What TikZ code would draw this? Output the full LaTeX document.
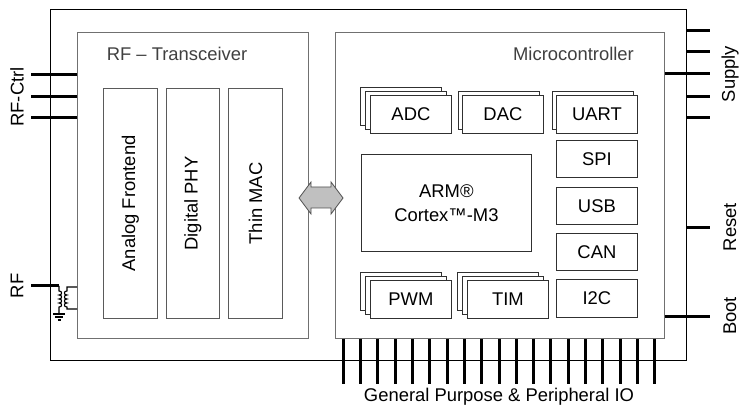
\documentclass[tikz,border=0pt]{standalone}
\usepackage{fontspec}
\setmainfont{Liberation Sans}
\usetikzlibrary{calc}
\definecolor{frame}{HTML}{707070}
\definecolor{pbord}{HTML}{303030}
\definecolor{titletxt}{HTML}{404040}
\definecolor{arrowfill}{HTML}{C0C0C0}
\definecolor{arrowline}{HTML}{505050}
\begin{document}
\begin{tikzpicture}[x=1pt,y=-1pt,
  font=\fontsize{18.4}{24}\selectfont,
  outerbox/.style={draw=black, line width=0.9pt, inner sep=0pt, anchor=north west},
  container/.style={draw=frame, line width=0.9pt, fill=white, inner sep=0pt, anchor=north west},
  vbox/.style={draw=frame!80!black, line width=0.9pt, fill=white, inner sep=0pt, anchor=north west,
     minimum height=230pt},
  pbox/.style={draw=pbord, line width=0.8pt, fill=white, inner sep=0pt, anchor=north west,
     minimum width=81pt, minimum height=38pt},
  cbox/.style={pbox, minimum height=37pt},
  title/.style={text=titletxt, inner sep=0pt},
  pin/.style={line width=3pt, draw=black},
  coil/.style={line width=1.1pt, draw=black},
  pinlabel/.style={rotate=90, inner sep=0pt}
]
\useasboundingbox (0,0) rectangle (740,406);

% outer chip
\node[outerbox, minimum width=636pt, minimum height=351pt] (chip) at (50,9) {};

% containers
\node[container, minimum width=231pt, minimum height=306pt] (rfbox) at (77,32) {};
\node[container, minimum width=329pt, minimum height=306pt] (mcu) at (335,32) {};

\node[title] (rftitle) at (177,54) {RF – Transceiver};
\node[title, anchor=east] (mcutitle) at (634,54) {Microcontroller};

% RF blocks
\node[vbox, minimum width=54pt] (afe) at (103,88) {};
\node[rotate=90, inner sep=0pt] (afelbl) at (afe.center) {Analog Frontend};
\node[vbox, minimum width=53pt] (dphy) at (166,88) {};
\node[rotate=90, inner sep=0pt] (dphylbl) at (dphy.center) {Digital PHY};
\node[vbox, minimum width=54pt] (tmac) at (228,88) {};
\node[rotate=90, inner sep=0pt] (tmaclbl) at (tmac.center) {Thin MAC};

% MCU blocks
\node[draw=pbord, line width=0.8pt, fill=white, anchor=north west, inner sep=0pt,
      minimum width=170pt, minimum height=97pt, align=center] (arm) at (361,154) {ARM®\\Cortex™-M3};

\node[pbox] (adc3) at (360,87) {};
\node[pbox] (adc2) at (365,91) {};
\node[pbox] (adc) at (370,95) {ADC};

\node[pbox] (dac2) at (458,91) {};
\node[pbox] (dac) at (462,95) {DAC};

\node[pbox] (uart2) at (552,91) {};
\node[pbox] (uart) at (556,95) {UART};

\node[cbox] (spi) at (556,140) {SPI};
\node[cbox] (usb) at (556,187) {USB};
\node[cbox] (can) at (556,233) {CAN};
\node[pbox] (i2c) at (556,279) {I2C};

\node[pbox] (pwm3) at (360,272) {};
\node[pbox] (pwm2) at (365,276) {};
\node[pbox] (pwm) at (370,280) {PWM};

\node[pbox] (tim3) at (457,272) {};
\node[pbox] (tim2) at (462,276) {};
\node[pbox] (tim) at (467,280) {TIM};

% double arrow between RF and MCU
\draw[fill=arrowfill, draw=arrowline, line width=0.8pt, line join=miter]
  (299,198) -- (311,182) -- (311,187) -- (331,187) -- (331,182) -- (343,198)
  -- (331,214) -- (331,208) -- (311,208) -- (311,214) -- cycle;

% RF-Ctrl pins
\foreach \dy in {43,65,86}
  \draw[pin] ($(rfbox.north west)+(0,\dy)$) -- ++(-46,0);
\node[pinlabel] (rfctrl) at (17,97) {RF-Ctrl};

% RF pin with transformer
\coordinate (rfend) at (59,286);
\draw[pin] (rfend) -- ++(-28,0);
\node[pinlabel] (rflbl) at (17,286) {RF};
\draw[coil] (rfend) -- (59,291)
  .. controls (62.5,291) and (62.5,295) .. (59,295)
  .. controls (62.5,295) and (62.5,299) .. (59,299)
  .. controls (62.5,299) and (62.5,303) .. (59,303)
  .. controls (62.5,303) and (62.5,307) .. (59,307) -- (59,314);
\draw[coil] (53,314) -- (65,314);
\draw[coil] (55,317) -- (63,317);
\draw[coil] (57.5,320) -- (60.5,320);
\draw[coil] ($(rfbox.north west)+(0,255)$) -- (67,287) -- (67,291)
  .. controls (63.5,291) and (63.5,295) .. (67,295)
  .. controls (63.5,295) and (63.5,299) .. (67,299)
  .. controls (63.5,299) and (63.5,303) .. (67,303)
  .. controls (63.5,303) and (63.5,307) .. (67,307) -- (67,309) -- ($(rfbox.north west)+(0,277)$);

% Supply pins
\foreach \dy in {22,43,88,109}
  \draw[pin] ($(chip.north east)+(0,\dy)$) -- ++(23,0);
\draw[pin] ($(mcu.north east)+(0,42)$) -- ++(45,0);
\node[pinlabel] (supply) at (730,74) {Supply};

% Reset
\draw[pin] ($(chip.north east)+(0,219)$) -- ++(23,0);
\node[pinlabel] (reset) at (730,227) {Reset};

% Boot
\draw[pin] ($(mcu.north east)+(0,285)$) -- ++(45,0);
\node[pinlabel] (boot) at (730,316) {Boot};

% GPIO pins
\foreach \i in {0,...,18}
  \draw[pin] ($(mcu.south west)+(8+\i*17.333,0)$) -- ++(0,45);
\node[inner sep=0pt] (gpio) at (499,397) {General Purpose \& Peripheral IO};

\end{tikzpicture}
\end{document}
